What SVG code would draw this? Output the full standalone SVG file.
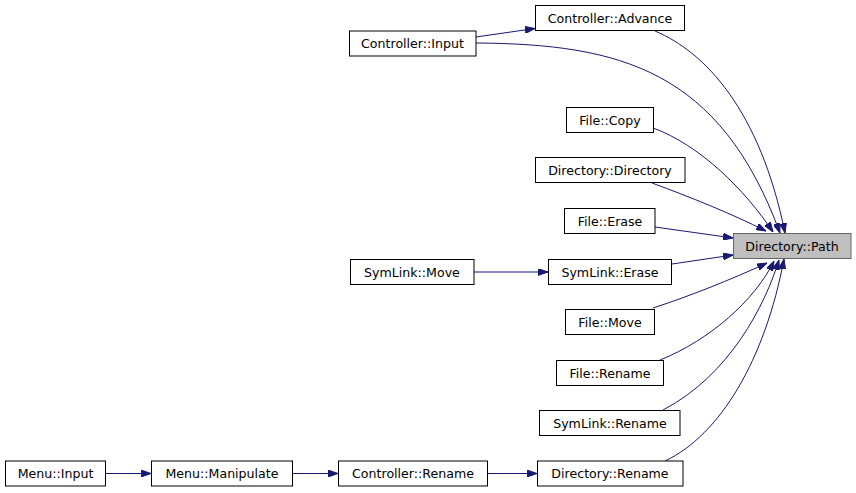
<svg xmlns="http://www.w3.org/2000/svg" width="856" height="493" viewBox="0 0 856 493">
<style>
.n rect{fill:#fff;stroke:#000;stroke-width:1}
.n text{font-family:"DejaVu Sans",sans-serif;font-size:12.6px;text-anchor:middle;fill:#000}
#path rect{fill:#bfbfbf;stroke:#666}
.e path{fill:none;stroke:#191970;stroke-width:1;marker-end:url(#a)}
</style>
<defs>
<marker id="a" markerWidth="10" markerHeight="7" refX="10" refY="3.5" orient="auto" markerUnits="userSpaceOnUse"><path d="M0,0 L10,3.5 L0,7 z" fill="#191970" stroke="#191970"/></marker>
</defs>
<rect width="856" height="493" fill="#fff"/>
<g class="e">
<path d="M476,37 L535,28.5"/>
<path d="M476,43 C620,44 720,70 780,233"/>
<path d="M655,31 C705,52 760,110 785,233"/>
<path d="M653,128 C700,145 745,190 773,232"/>
<path d="M652,183 C690,197 730,213 766,231"/>
<path d="M655,227 L733,238"/>
<path d="M672,264 L733,255"/>
<path d="M653,308 C690,296 730,280 767,263"/>
<path d="M660,360 C710,340 755,300 774,261"/>
<path d="M663,410 C730,375 765,305 779,260"/>
<path d="M665,461 C720,435 765,360 784,259"/>
<path d="M474,272 L548,272"/>
<path d="M105,473.5 L151,473.5"/>
<path d="M292,473.5 L338,473.5"/>
<path d="M487,473.5 L537,473.5"/>
</g>
<g id="path" class="n"><rect x="733.5" y="233.5" width="117.5" height="25"/><text x="792" y="250.5">Directory::Path</text></g>
<g id="advance" class="n"><rect x="535.5" y="5.5" width="149" height="25"/><text x="610" y="22.5">Controller::Advance</text></g>
<g id="cinput" class="n"><rect x="349.5" y="31" width="126.5" height="25"/><text x="412.5" y="48">Controller::Input</text></g>
<g id="fcopy" class="n"><rect x="566.5" y="107.5" width="87" height="25"/><text x="610" y="124.5">File::Copy</text></g>
<g id="ddir" class="n"><rect x="535.5" y="157.5" width="149.5" height="25"/><text x="610" y="174.5">Directory::Directory</text></g>
<g id="ferase" class="n"><rect x="564.5" y="208.5" width="90.5" height="25"/><text x="610" y="225.5">File::Erase</text></g>
<g id="smove" class="n"><rect x="350.5" y="259.5" width="123.5" height="25"/><text x="412" y="276.5">SymLink::Move</text></g>
<g id="serase" class="n"><rect x="548.5" y="259.5" width="123" height="25"/><text x="610" y="276.5">SymLink::Erase</text></g>
<g id="fmove" class="n"><rect x="565.5" y="309.5" width="89" height="25"/><text x="610" y="326.5">File::Move</text></g>
<g id="frename" class="n"><rect x="556.5" y="360.5" width="107" height="25"/><text x="610" y="377.5">File::Rename</text></g>
<g id="srename" class="n"><rect x="539.5" y="410.5" width="140.5" height="25"/><text x="610" y="427.5">SymLink::Rename</text></g>
<g id="minput" class="n"><rect x="5.5" y="461" width="100" height="25"/><text x="55.5" y="478">Menu::Input</text></g>
<g id="mmanip" class="n"><rect x="151.5" y="461" width="141" height="25"/><text x="222" y="478">Menu::Manipulate</text></g>
<g id="crename" class="n"><rect x="338.5" y="461" width="149" height="25"/><text x="413" y="478">Controller::Rename</text></g>
<g id="drename" class="n"><rect x="537.5" y="461" width="145.5" height="25"/><text x="610" y="478">Directory::Rename</text></g>
</svg>
